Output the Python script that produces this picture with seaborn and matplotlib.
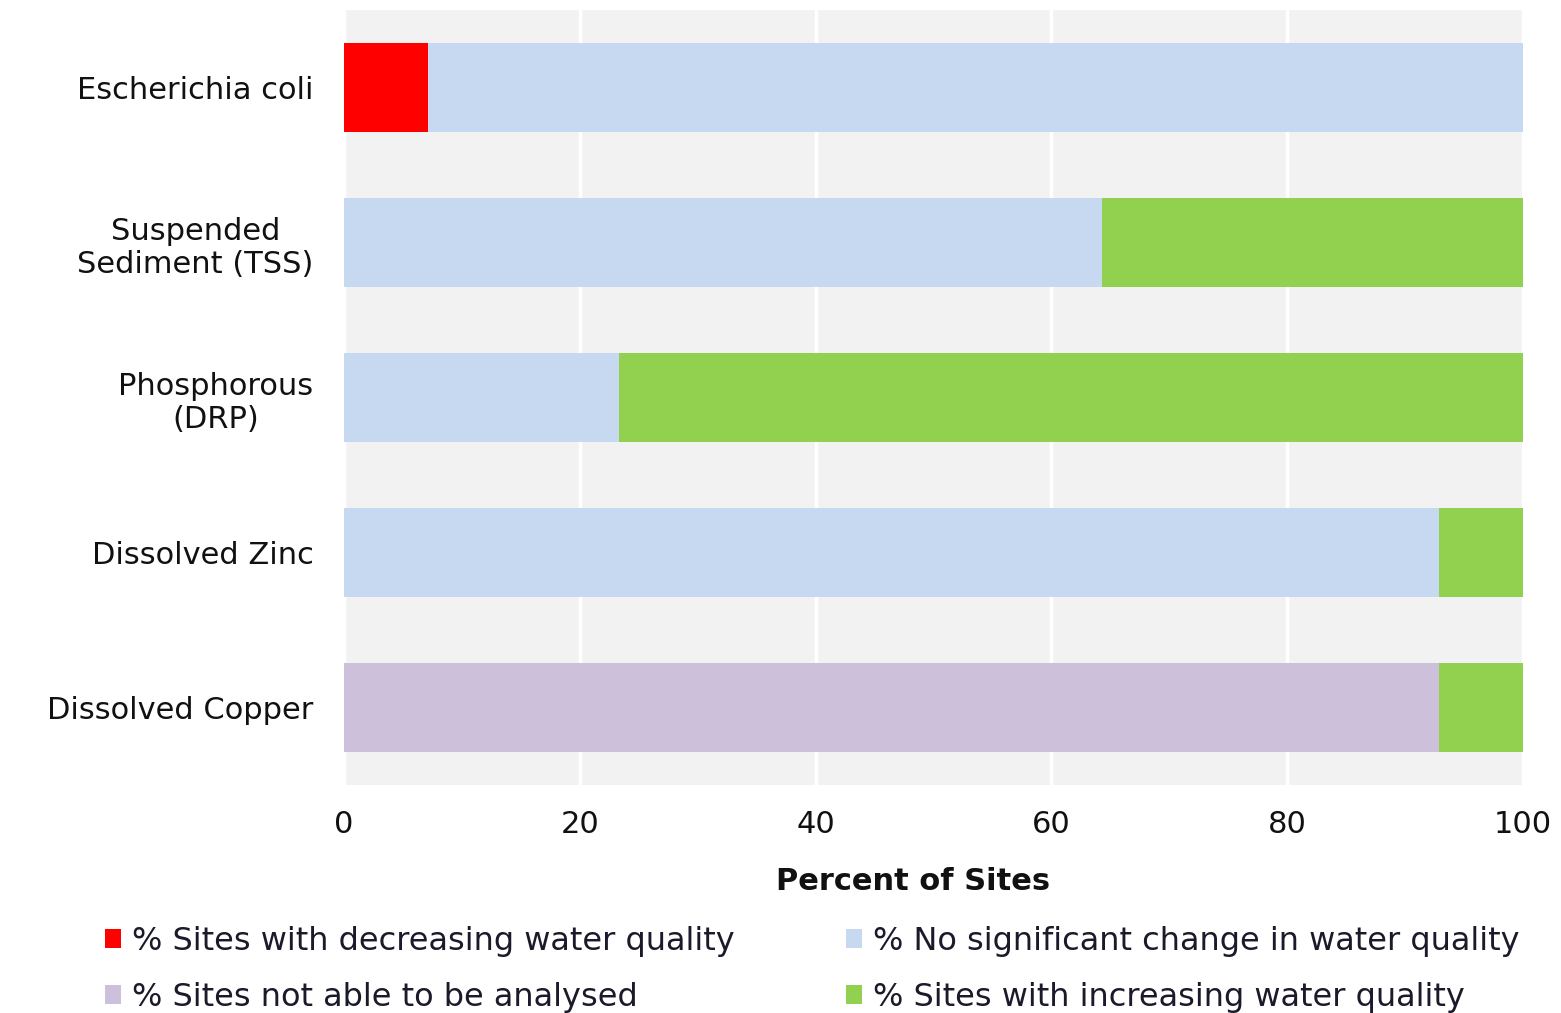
import matplotlib
matplotlib.use("Agg")
import matplotlib.pyplot as plt
from matplotlib.patches import Patch
import numpy as np
import pandas as pd
import seaborn as sns

# Water quality trend results per parameter (percent of sites)
categories = ["Escherichia coli", "Suspended\nSediment (TSS)", "Phosphorous\n(DRP)",
              "Dissolved Zinc", "Dissolved Copper"]
decreasing = [7.1, 0.0, 0.0, 0.0, 0.0]
no_change = [92.9, 64.3, 23.3, 92.9, 0.0]
not_analysed = [0.0, 0.0, 0.0, 0.0, 92.9]
increasing = [0.0, 35.7, 76.7, 7.1, 7.1]

series_labels = ["% Sites with decreasing water quality",
                 "% No significant change in water quality",
                 "% Sites not able to be analysed",
                 "% Sites with increasing water quality"]
series_colors = ["#FF0000", "#C6D9F0", "#CCC0DA", "#92D050"]
x_ticks = [0, 20, 40, 60, 80, 100]

sns.set_theme(style="white")
plt.rcParams["font.family"] = ["DejaVu Sans"]

fig = plt.figure(figsize=(15.61, 10.13), dpi=100)
ax = fig.add_axes([0.2204, 0.225, 0.7553, 0.765])
ax.set_facecolor("#F2F2F2")

# Stack order: decreasing, no change, not analysed, increasing
stack = np.vstack([decreasing, no_change, not_analysed, increasing])
cum = np.cumsum(stack, axis=0)
df = pd.DataFrame({"Parameter": categories})

# Draw cumulative totals from the outermost segment inwards so each overlays the last
for i in range(stack.shape[0] - 1, -1, -1):
    df["value"] = cum[i]
    sns.barplot(data=df, x="value", y="Parameter", orient="h",
                color=series_colors[i], saturation=1, width=0.575,
                linewidth=0, ax=ax, zorder=3)

ax.set_xlim(0, 100)
ax.set_ylim(4.5, -0.5)
ax.set_xticks(x_ticks)
ax.set_xticklabels([str(t) for t in x_ticks])
ax.grid(axis="x", color="white", linewidth=2.5, zorder=0)
ax.grid(axis="y", visible=False)
ax.set_axisbelow(True)
for s in ax.spines.values():
    s.set_visible(False)

ax.tick_params(axis="x", length=0, pad=18, labelsize=22, colors="#111111")
ax.tick_params(axis="y", length=0, pad=22, labelsize=22, colors="#111111")
for lbl in ax.get_yticklabels():
    lbl.set_multialignment("center")

ax.set_ylabel("")
ax.set_xlabel("Percent of Sites", fontsize=22, fontweight="bold", color="#111111")
ax.xaxis.set_label_coords(0.483, -0.125)
ax.xaxis.label.set_verticalalignment("center")

handles = [Patch(facecolor=series_colors[k], edgecolor="none") for k in [0, 2, 1, 3]]
labels = [series_labels[k] for k in [0, 2, 1, 3]]
fig.legend(handles, labels, ncol=2, loc="upper left",
           bbox_to_anchor=(0.067, 0.086), borderaxespad=0, borderpad=0,
           frameon=False, fontsize=23, handlelength=0.5, handleheight=0.5,
           handletextpad=0.35, columnspacing=3.5, labelspacing=0.78,
           labelcolor="#1A1A2A")

fig.savefig("out.png", dpi=100, facecolor="white")
